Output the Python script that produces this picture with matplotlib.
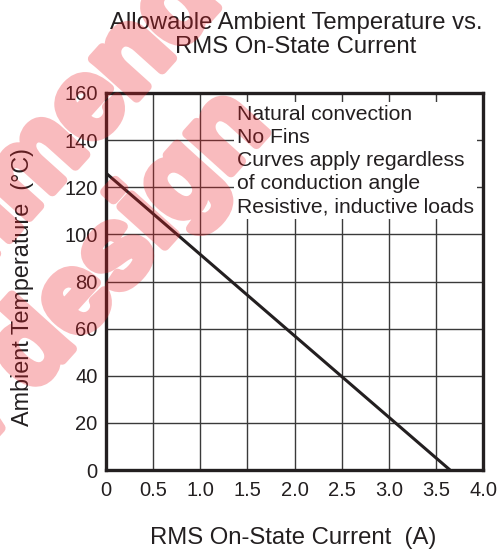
import matplotlib.pyplot as plt
import matplotlib.patheffects as pe

plt.rcParams['font.family'] = ['Liberation Sans', 'DejaVu Sans']

# derating curve: ambient temperature limit vs RMS on-state current
current = [0.0, 3.65]
temp = [126, 0]

xticks = [0, 0.5, 1.0, 1.5, 2.0, 2.5, 3.0, 3.5, 4.0]
xticklabels = ['0', '0.5', '1.0', '1.5', '2.0', '2.5', '3.0', '3.5', '4.0']
yticks = [0, 20, 40, 60, 80, 100, 120, 140, 160]

notes = ["Natural convection", "No Fins", "Curves apply regardless",
         "of conduction angle", "Resistive, inductive loads"]

ink = '#231f20'

fig = plt.figure(figsize=(5.01, 5.53), dpi=100)
ax = fig.add_axes([106/501, 1 - 470/553, 377/501, 377/553])

ax.plot(current, temp, color=ink, lw=2.2, solid_capstyle='butt', zorder=3)

ax.set_xlim(0, 4)
ax.set_ylim(0, 160)
ax.set_xticks(xticks)
ax.set_xticklabels(xticklabels)
ax.set_yticks(yticks)
ax.tick_params(length=0, labelsize=14.5, colors=ink)
ax.tick_params(axis='x', pad=8)
ax.tick_params(axis='y', pad=6)
ax.grid(True, color='#3a3a3a', lw=1.0)
ax.set_axisbelow(True)
for s in ax.spines.values():
    s.set_linewidth(2.4)
    s.set_color(ink)

ax.text(1.39, 155, "\n".join(notes), ha='left', va='top', fontsize=15.2,
        color=ink, linespacing=1.28, zorder=4,
        bbox=dict(facecolor='white', edgecolor='none', pad=2))

fig.text(296/501, 1 - 35/553, "Allowable Ambient Temperature vs.\nRMS On-State Current",
         ha='center', va='center', fontsize=17.2, color=ink, linespacing=1.1)
fig.text(293/501, 1 - 538/553, "RMS On-State Current  (A)", ha='center', va='center',
         fontsize=17.2, color=ink)
fig.text(23/501, 1 - 287/553, "Ambient Temperature  (\u00b0C)", ha='center', va='center',
         rotation=90, fontsize=16.8, color=ink)


# diagonal watermark: heavy opaque letters, faded afterwards as one layer
def fade(img, dpi):
    img[..., 3] *= 0.3
    return img, 0, 0


wm_red = '#ee1c25'
wm = dict(rotation=48, rotation_mode='anchor', ha='right', va='baseline',
          fontsize=80, fontweight='bold', color=wm_red, zorder=10,
          path_effects=[pe.Stroke(linewidth=7, foreground=wm_red), pe.Normal()])
for label, x, y in [("Not recommend", 222, 3), ("for new design", 271, 128)]:
    t = fig.text(x/501, 1 - y/553, label, **wm)
    t.set_agg_filter(fade)

fig.savefig('out.png', dpi=100)
